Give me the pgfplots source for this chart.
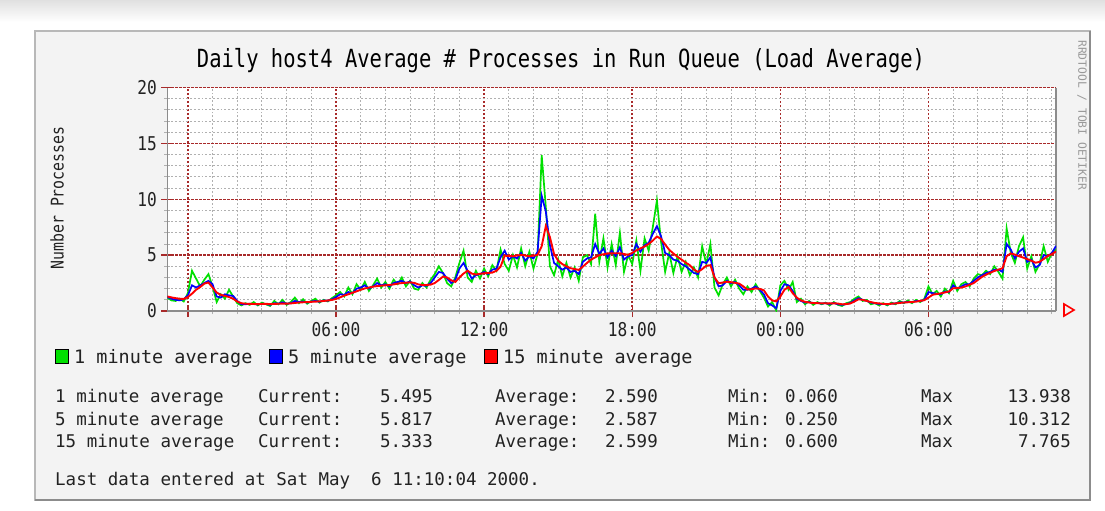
\documentclass[border=0pt]{standalone}
\usepackage{pgfplots}
\pgfplotsset{compat=1.18}
\usepackage{pgfplotstable}
\usepackage{fontspec}
\setmainfont{DejaVu Sans Mono}
\newfontfamily\titlefont{DejaVu Sans Mono}[FakeStretch=0.82]
\newfontfamily\tickfont{DejaVu Sans Mono}[FakeStretch=0.85]
\definecolor{gridred}{HTML}{A82A2A}
\definecolor{gridgray}{HTML}{B0B0B0}
\definecolor{framebg}{HTML}{F3F3F3}
\definecolor{framedraw}{HTML}{B8B8B8}
\definecolor{txt}{HTML}{222222}
\definecolor{lgreen}{HTML}{00E000}
\definecolor{lblue}{HTML}{0000FF}
\definecolor{lred}{HTML}{FF0000}
\pgfplotstableread{
t g b r
0 1.2 1.25 1.30
1 0.95 1.1 1.22
2 0.9 1.0 1.15
3 1.1 0.95 1.10
4 0.85 1.05 1.08
5 1.6 1.4 1.25
6 3.6 2.3 1.55
7 2.9 2.1 1.9
8 2.2 2.3 2.15
9 2.8 2.5 2.45
10 3.3 2.7 2.55
11 2.2 2.4 2.1
12 0.8 1.3 1.65
13 1.5 1.2 1.45
14 1.1 1.5 1.35
15 1.9 1.4 1.25
16 1.3 1.35 1.1
17 0.7 0.9 0.85
18 0.5 0.6 0.7
19 0.7 0.6 0.65
20 0.55 0.65 0.64
21 0.8 0.62 0.63
22 0.5 0.58 0.62
23 0.75 0.66 0.63
24 0.6 0.62 0.64
25 0.45 0.55 0.62
26 0.9 0.7 0.63
27 0.6 0.66 0.65
28 1.0 0.78 0.66
29 0.55 0.65 0.66
30 0.8 0.7 0.68
31 1.2 0.9 0.72
32 0.7 0.8 0.76
33 1.05 0.85 0.78
34 0.65 0.75 0.8
35 0.9 0.85 0.82
36 1.1 0.9 0.84
37 0.75 0.82 0.86
38 1.0 0.95 0.9
39 0.85 0.92 0.94
40 1.15 1.05 0.99
41 1.4 1.25 1.08
42 1.7 1.5 1.22
43 1.3 1.45 1.38
44 2.1 1.7 1.5
45 1.5 1.6 1.63
46 2.4 2.0 1.76
47 1.9 2.1 1.9
48 2.6 2.3 2.02
49 1.8 2.0 2.1
50 2.3 2.2 2.18
51 2.9 2.5 2.23
52 2.1 2.3 2.27
53 2.6 2.4 2.3
54 2.0 2.2 2.33
55 2.8 2.5 2.38
56 2.4 2.6 2.45
57 3.0 2.7 2.5
58 2.2 2.5 2.53
59 2.7 2.65 2.56
60 2.0 2.3 2.52
61 1.9 2.1 2.38
62 2.5 2.3 2.33
63 2.1 2.25 2.33
64 2.8 2.5 2.36
65 3.3 3.0 2.5
66 4.0 3.5 2.78
67 3.4 3.4 3.08
68 2.5 2.9 3.0
69 2.2 2.5 2.75
70 3.0 2.8 2.6
71 4.3 3.8 3.0
72 5.4 4.3 3.35
73 3.0 3.6 3.6
74 2.6 2.9 3.35
75 3.6 3.2 3.27
76 2.9 3.3 3.33
77 3.8 3.5 3.38
78 3.1 3.3 3.4
79 4.1 3.7 3.44
80 3.6 3.8 3.6
81 5.5 4.8 3.97
82 4.2 5.4 4.95
83 3.6 4.6 4.92
84 5.0 4.9 4.9
85 3.9 4.7 4.97
86 5.6 5.2 5.02
87 4.0 4.5 4.96
88 5.3 4.9 4.9
89 3.8 4.7 4.95
90 5.1 5.3 5.02
91 13.94 10.31 5.8
92 9.3 8.9 7.6
93 4.0 5.9 6.6
94 3.2 4.3 5.1
95 4.6 4.0 4.5
96 3.1 3.7 4.2
97 4.3 3.9 4.0
98 3.0 3.5 3.83
99 3.9 3.6 3.75
100 2.7 3.3 3.68
101 4.8 4.4 3.97
102 5.0 4.7 4.3
103 4.2 4.8 4.6
104 8.7 6.0 4.8
105 4.4 5.1 5.0
106 6.5 5.6 5.08
107 3.9 4.8 5.15
108 6.0 5.4 5.17
109 4.1 4.9 5.17
110 7.0 5.7 5.17
111 3.5 4.6 5.1
112 5.0 4.9 5.03
113 4.2 5.0 5.2
114 6.3 6.0 5.42
115 3.6 5.3 5.6
116 6.5 5.9 5.77
117 5.4 6.1 6.0
118 7.5 6.9 6.3
119 9.9 7.6 6.67
120 6.2 6.7 6.45
121 3.5 5.2 5.95
122 5.2 5.0 5.47
123 3.4 4.6 5.15
124 4.9 4.5 4.85
125 3.5 4.2 4.6
126 4.4 4.0 4.33
127 3.2 3.7 4.1
128 3.9 3.4 3.7
129 3.0 3.3 3.5
130 5.8 4.4 3.75
131 4.2 4.3 4.05
132 6.0 4.8 4.1
133 2.1 3.0 3.0
134 1.4 2.2 2.48
135 2.4 2.3 2.55
136 3.0 2.7 2.62
137 2.2 2.5 2.58
138 2.8 2.6 2.52
139 2.0 2.3 2.45
140 1.5 1.9 2.2
141 2.2 1.9 1.92
142 1.7 2.0 1.95
143 2.4 2.2 2.02
144 1.8 1.9 1.98
145 1.2 1.5 1.85
146 0.4 0.7 1.3
147 0.8 0.5 0.95
148 0.06 0.25 0.86
149 2.3 1.8 1.3
150 2.7 2.4 1.9
151 1.9 2.3 2.15
152 2.6 1.8 1.6
153 0.8 1.1 1.2
154 1.1 0.9 0.95
155 0.6 0.75 0.82
156 0.9 0.8 0.76
157 0.55 0.7 0.72
158 0.8 0.72 0.7
159 0.6 0.66 0.69
160 0.75 0.7 0.69
161 0.5 0.62 0.68
162 0.8 0.72 0.69
163 0.55 0.6 0.67
164 0.45 0.55 0.6
165 0.7 0.62 0.62
166 0.8 0.72 0.67
167 1.1 0.95 0.85
168 1.3 1.15 1.05
169 0.9 1.0 1.0
170 1.0 0.9 0.9
171 0.6 0.75 0.8
172 0.7 0.7 0.72
173 0.5 0.62 0.68
174 0.7 0.64 0.64
175 0.5 0.58 0.62
176 0.75 0.66 0.65
177 0.6 0.68 0.68
178 0.9 0.78 0.72
179 0.7 0.76 0.76
180 0.95 0.82 0.78
181 0.7 0.78 0.81
182 1.0 0.9 0.84
183 0.8 0.88 0.9
184 1.1 1.0 0.97
185 2.2 1.7 1.2
186 1.5 1.6 1.45
187 1.8 1.55 1.52
188 1.3 1.5 1.58
189 2.0 1.75 1.66
190 1.6 1.7 1.75
191 2.7 2.3 2.03
192 1.8 2.0 2.06
193 2.4 2.2 2.09
194 2.6 2.4 2.2
195 2.2 2.4 2.35
196 2.9 2.7 2.5
197 3.3 3.0 2.78
198 3.2 3.2 3.05
199 3.6 3.4 3.25
200 3.3 3.5 3.42
201 4.0 3.7 3.58
202 3.5 3.7 3.7
203 2.9 3.5 3.83
204 7.4 6.0 4.9
205 5.2 5.5 5.15
206 4.3 4.7 5.05
207 5.8 5.3 4.9
208 6.6 5.6 4.78
209 3.8 4.4 4.65
210 4.9 4.6 4.5
211 3.5 3.9 4.32
212 4.2 4.1 4.4
213 5.8 5.0 4.65
214 4.4 4.9 4.92
215 5.2 5.2 5.1
216 5.495 5.817 5.33
}\loaddata
\begin{document}
\begin{tikzpicture}
% page background
\fill[white] (0bp,0bp) rectangle (1105bp,-511bp);
\shade[top color=black!12, bottom color=white] (0bp,0bp) rectangle (1105bp,-22bp);
% frame
\fill[framebg] (35bp,-31bp) rectangle (1090bp,-500bp);
\draw[framedraw, line width=2.5bp] (35bp,-31bp) rectangle (1090bp,-500bp);
\draw[black!45, line width=1.5bp] (35bp,-500bp) -- (1090bp,-500bp) -- (1090bp,-31bp);

\begin{axis}[
  at={(167.3bp,-311bp)}, anchor=south west,
  width=888.7bp, height=223.5bp, scale only axis,
  xmin=0, xmax=216, ymin=0, ymax=20,
  axis background/.style={fill=white},
  axis x line*=bottom, axis y line*=box,
  axis line style={draw=black!45, line width=1.2bp, -},
  xtick={5,41,77,113,149,185},
  xticklabels={,06:00,12:00,18:00,00:00,06:00},
  minor xtick={11,17,23,29,35,47,53,59,65,71,83,89,95,101,107,119,125,131,137,143,155,161,167,173,179,191,197,203,209,215},
  ytick={0,5,10,15,20},
  yticklabels={0,5,10,15,20},
  minor ytick={1,2,3,4,6,7,8,9,11,12,13,14,16,17,18,19},
  ytick pos=left,
  grid=both,
  major grid style={draw=gridred, dash pattern=on 2.5bp off 1.5bp, line width=1.5bp},
  minor grid style={draw=gridgray, dash pattern=on 1.8bp off 2bp, line width=0.9bp},
  tick align=center,
  major tick length=12bp, minor tick length=6bp,
  every major tick/.append style={draw=gridred, line width=1.4bp},
  every minor tick/.append style={draw=gridgray, line width=0.9bp},
  tick label style={font=\tickfont\fontsize{19bp}{22bp}\selectfont, text=txt},
  xticklabel style={yshift=-2bp},
  yticklabel style={xshift=-1bp},
  clip=true,
]
\addplot[color=lgreen, line width=1.7bp] table[x=t, y=g] {\loaddata};
\addplot[color=lblue, line width=1.7bp] table[x=t, y=b] {\loaddata};
\addplot[color=lred, line width=1.9bp] table[x=t, y=r] {\loaddata};
\end{axis}

% arrow at end of x axis
\draw[lred, line width=1.6bp] (1064bp,-304bp) -- (1074bp,-310bp) -- (1064bp,-316bp) -- cycle;

% title
\node[anchor=base, inner sep=0pt, text=black] at (561bp,-67bp)
  {\titlefont\fontsize{25bp}{30bp}\selectfont Daily host4 Average \# Processes in Run Queue (Load Average)};
% y label
\node[rotate=90, inner sep=0pt, text=txt] at (57bp,-198bp)
  {\tickfont\fontsize{17.5bp}{20bp}\selectfont Number Processes};
% right vertical credit
\node[rotate=-90, anchor=west, inner sep=0pt, text=black!40] at (1082bp,-40bp)
  {\fontsize{11.3bp}{13bp}\selectfont RRDTOOL / TOBI OETIKER};

% legend
\begin{scope}[every node/.style={anchor=base west, inner sep=0pt, text=txt, font=\fontsize{18.5bp}{22bp}\selectfont}]
\filldraw[fill=lgreen, draw=black, line width=1bp] (55bp,-349bp) rectangle (68bp,-363bp);
\node at (74bp,-363bp) {1 minute average};
\filldraw[fill=lblue, draw=black, line width=1bp] (269bp,-349bp) rectangle (282bp,-363bp);
\node at (288bp,-363bp) {5 minute average};
\filldraw[fill=lred, draw=black, line width=1bp] (484bp,-349bp) rectangle (497bp,-363bp);
\node at (503bp,-363bp) {15 minute average};
\end{scope}

% statistics
\begin{scope}[every node/.style={inner sep=0pt, text=txt, font=\fontsize{17.5bp}{21bp}\selectfont}]
\node[anchor=base west] at (55bp,-402bp) {1 minute average};
\node[anchor=base west] at (55bp,-425bp) {5 minute average};
\node[anchor=base west] at (55bp,-447bp) {15 minute average};
\node[anchor=base west] at (258bp,-402bp) {Current:};
\node[anchor=base west] at (258bp,-425bp) {Current:};
\node[anchor=base west] at (258bp,-447bp) {Current:};
\node[anchor=base east] at (433bp,-402bp) {5.495};
\node[anchor=base east] at (433bp,-425bp) {5.817};
\node[anchor=base east] at (433bp,-447bp) {5.333};
\node[anchor=base west] at (495bp,-402bp) {Average:};
\node[anchor=base west] at (495bp,-425bp) {Average:};
\node[anchor=base west] at (495bp,-447bp) {Average:};
\node[anchor=base east] at (658bp,-402bp) {2.590};
\node[anchor=base east] at (658bp,-425bp) {2.587};
\node[anchor=base east] at (658bp,-447bp) {2.599};
\node[anchor=base west] at (728bp,-402bp) {Min:};
\node[anchor=base west] at (728bp,-425bp) {Min:};
\node[anchor=base west] at (728bp,-447bp) {Min:};
\node[anchor=base east] at (838bp,-402bp) {0.060};
\node[anchor=base east] at (838bp,-425bp) {0.250};
\node[anchor=base east] at (838bp,-447bp) {0.600};
\node[anchor=base west] at (921bp,-402bp) {Max};
\node[anchor=base west] at (921bp,-425bp) {Max};
\node[anchor=base west] at (921bp,-447bp) {Max};
\node[anchor=base east] at (1071bp,-402bp) {13.938};
\node[anchor=base east] at (1071bp,-425bp) {10.312};
\node[anchor=base east] at (1071bp,-447bp) {7.765};
\node[anchor=base west] at (55bp,-485bp) {Last data entered at Sat May\ \ 6 11:10:04 2000.};
\end{scope}
\end{tikzpicture}
\end{document}
